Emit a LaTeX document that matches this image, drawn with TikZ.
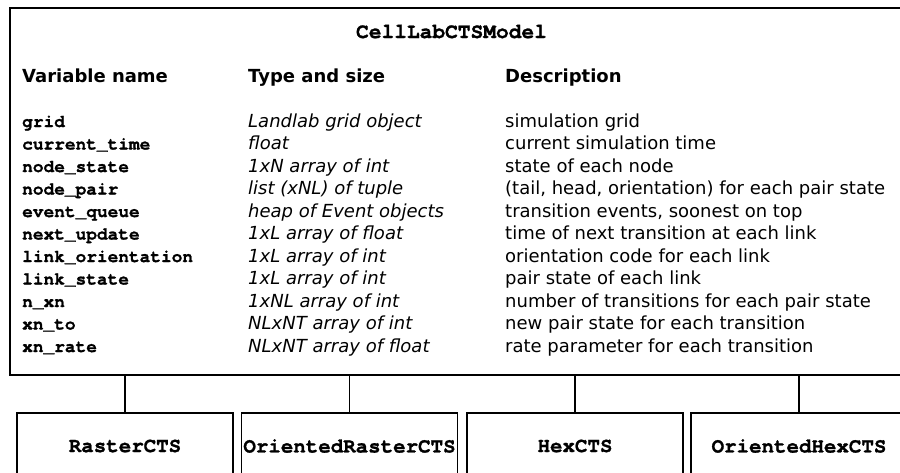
\documentclass[tikz,border=0pt]{standalone}
\usepackage{fontspec}
\setmainfont{DejaVu Sans}
\setmonofont[BoldFeatures={FakeBold=1.2}]{TeX Gyre Cursor}
\begin{document}
\begin{tikzpicture}[x=1pt,y=-1pt,
  txt/.style={anchor=base west,inner sep=0pt,font=\fontsize{18}{20}\selectfont},
  var/.style={txt,font=\fontsize{17.8}{20}\selectfont\ttfamily\bfseries},
  typ/.style={txt,font=\fontsize{18}{20}\selectfont\itshape},
  hdr/.style={txt,font=\fontsize{18}{20}\selectfont\bfseries},
  mainbox/.style={draw,line width=2pt,inner sep=0pt},
  subbox/.style={draw,line width=1.6pt,inner sep=0pt,minimum width=216pt,minimum height=66pt,
    font=\fontsize{20.8}{24}\selectfont\ttfamily\bfseries},
  conn/.style={line width=1.5pt}]
\useasboundingbox (0,0) rectangle (900,472);
\clip (0,0) rectangle (900,472);
\node[mainbox,minimum width=900pt,minimum height=367pt] (main) at (460,191.5) {};
\node[anchor=base,inner sep=0pt,font=\fontsize{21.2}{24}\selectfont\ttfamily\bfseries] (title) at (451.5,38) {CellLabCTSModel};
\node[hdr] (h1) at (22,82) {Variable name};
\node[hdr] (h2) at (248,82) {Type and size};
\node[hdr] (h3) at (505,82) {Description};
\foreach \v/\t/\d [count=\i from 0] in {
  grid/Landlab grid object/simulation grid,
  current\_time/float/current simulation time,
  node\_state/1xN array of int/state of each node,
  node\_pair/list (xNL) of tuple/{(tail, head, orientation) for each pair state},
  event\_queue/heap of Event objects/{transition events, soonest on top},
  next\_update/1xL array of float/time of next transition at each link,
  link\_orientation/1xL array of int/orientation code for each link,
  link\_state/1xL array of int/pair state of each link,
  n\_xn/1xNL array of int/number of transitions for each pair state,
  xn\_to/NLxNT array of int/new pair state for each transition,
  xn\_rate/NLxNT array of float/rate parameter for each transition}{
  \node[var] (v\i) at (22,127+22.5*\i) {\v};
  \node[typ] (t\i) at (248,127+22.5*\i) {\t};
  \node[txt] (d\i) at (505,127+22.5*\i) {\d};
}
\node[subbox] (s1) at (125,446) {RasterCTS};
\node[subbox] (s2) at (349.5,446) {OrientedRasterCTS};
\node[subbox] (s3) at (575,446) {HexCTS};
\node[subbox] (s4) at (799,446) {OrientedHexCTS};
\foreach \s in {s1,s2,s3,s4}{
  \draw[conn] (\s.north |- main.south) -- (\s.north);
}
\end{tikzpicture}
\end{document}
